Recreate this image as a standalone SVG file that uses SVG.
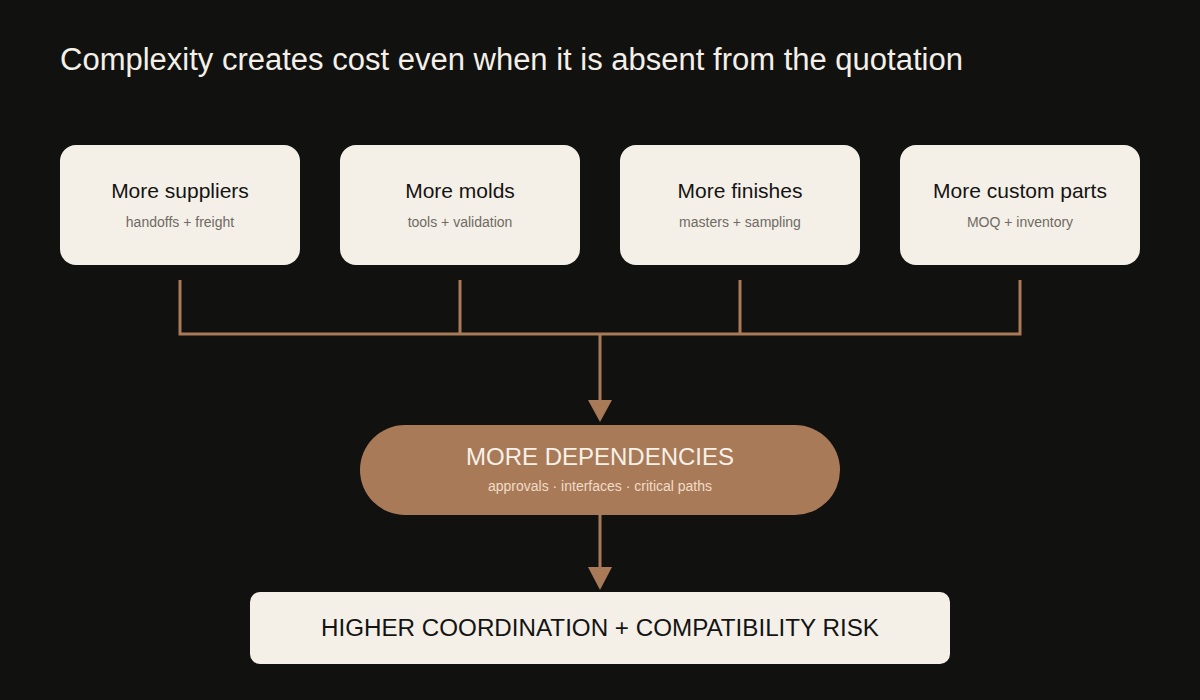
<svg xmlns="http://www.w3.org/2000/svg" width="1200" height="700" viewBox="0 0 1200 700">
<defs>
<style>
.card{fill:#f4f0e8}
.t{font-family:"Liberation Sans",Arial,sans-serif}
.h{font-size:21px;fill:#141414}
.s{font-size:14px;fill:#6f6a64}
.c{stroke:#a97a58;stroke-width:3;fill:none}
.ah{fill:#a97a58}
</style>
</defs>
<rect width="1200" height="700" fill="#111110"/>
<text class="t" x="60" y="70" font-size="31" fill="#f4f0e8">Complexity creates cost even when it is absent from the quotation</text>
<g id="n1"><rect class="card" x="60" y="145" width="240" height="120" rx="16"/><text class="t h" x="180" y="198" text-anchor="middle">More suppliers</text><text class="t s" x="180" y="227" text-anchor="middle">handoffs + freight</text></g>
<g id="n2"><rect class="card" x="340" y="145" width="240" height="120" rx="16"/><text class="t h" x="460" y="198" text-anchor="middle">More molds</text><text class="t s" x="460" y="227" text-anchor="middle">tools + validation</text></g>
<g id="n3"><rect class="card" x="620" y="145" width="240" height="120" rx="16"/><text class="t h" x="740" y="198" text-anchor="middle">More finishes</text><text class="t s" x="740" y="227" text-anchor="middle">masters + sampling</text></g>
<g id="n4"><rect class="card" x="900" y="145" width="240" height="120" rx="16"/><text class="t h" x="1020" y="198" text-anchor="middle">More custom parts</text><text class="t s" x="1020" y="227" text-anchor="middle">MOQ + inventory</text></g>
<g id="connectors">
<path class="c" d="M180,280 V334 M460,280 V334 M740,280 V334 M1020,280 V334 M178.5,334 H1021.5"/>
<path class="c" d="M600,334 V402"/>
<polygon class="ah" points="588,400 612,400 600,422"/>
<path class="c" d="M600,515 V569"/>
<polygon class="ah" points="588,567 612,567 600,590"/>
</g>
<g id="dep"><rect x="360" y="425" width="480" height="90" rx="45" fill="#a97a58"/><text class="t" x="600" y="465" text-anchor="middle" font-size="24" fill="#f7f1e8">MORE DEPENDENCIES</text><text class="t" x="600" y="491" text-anchor="middle" font-size="14" fill="#f0dcc8">approvals · interfaces · critical paths</text></g>
<g id="risk"><rect class="card" x="250" y="592" width="700" height="72" rx="10"/><text class="t" x="600" y="636" text-anchor="middle" font-size="24.2" fill="#141414">HIGHER COORDINATION + COMPATIBILITY RISK</text></g>
</svg>
